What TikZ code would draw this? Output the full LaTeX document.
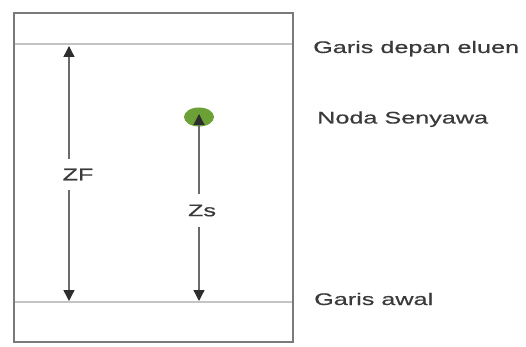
\documentclass[tikz,border=0pt]{standalone}
\usepackage{fontspec}
\setmainfont{Liberation Sans}
\newfontfamily\labelfont{Liberation Sans}[FakeBold=0.45]
\usetikzlibrary{arrows.meta,shapes.geometric}
\definecolor{platecol}{HTML}{7A7A7A}
\definecolor{linecol}{HTML}{C4C4C4}
\definecolor{arrcol}{HTML}{6A6A6A}
\definecolor{tipcol}{HTML}{2E2E2E}
\definecolor{txtcol}{HTML}{3A3A3A}
\definecolor{spotcol}{HTML}{6BA136}
\newcommand{\widetxt}[1]{\scalebox{1.5}[1]{#1}}
\tikzset{
  plate/.style={draw=platecol, line width=2pt},
  guide/.style={draw=linecol, line width=1.2pt},
  dimarrow/.style={draw=arrcol, line width=1.3pt,
    -{Triangle[length=11pt,width=11pt,color=tipcol]}},
  sidelabel/.style={anchor=base west, text=txtcol, inner sep=0pt,
    font=\labelfont\fontsize{16.8}{18}\selectfont},
  dimlabel/.style={text=txtcol, inner xsep=0pt, inner ysep=10pt,
    font=\labelfont\fontsize{16.8}{18}\selectfont},
}
\begin{document}
\begin{tikzpicture}[x=1pt,y=-1pt]
  \useasboundingbox (0,0) rectangle (526,347);
  % TLC plate
  \coordinate (tl) at (14,13);
  \coordinate (br) at (293,342);
  \draw[plate] (tl) rectangle (br);
  % solvent front and starting line
  \coordinate (frontL) at (15,44);
  \coordinate (frontR) at (292,44);
  \coordinate (startL) at (15,302);
  \coordinate (startR) at (292,302);
  \draw[guide] (frontL) -- (frontR);
  \draw[guide] (startL) -- (startR);
  % compound spot
  \node[ellipse, fill=spotcol, minimum width=30pt, minimum height=19pt,
        inner sep=0pt] (spot) at (199,117) {};
  % distance markers
  \coordinate (zftop) at (69,46);
  \coordinate (zfbot) at (69,301);
  \coordinate (zstop) at (199,114);
  \coordinate (zsbot) at (199,301);
  \node[dimlabel] (zf) at (78,174.5) {\widetxt{ZF}};
  \node[dimlabel] (zs) at (202,210.5) {\widetxt{Zs}};
  \draw[dimarrow] (zf.north -| zftop) -- (zftop);
  \draw[dimarrow] (zf.south -| zfbot) -- (zfbot);
  \draw[dimarrow] (zs.north -| zstop) -- (zstop);
  \draw[dimarrow] (zs.south -| zsbot) -- (zsbot);
  % side labels
  \node[sidelabel] (front) at (313,53) {\widetxt{Garis depan eluen}};
  \node[sidelabel] (spotlbl) at (317,123.5) {\widetxt{Noda Senyawa}};
  \node[sidelabel] (start) at (314,305) {\widetxt{Garis awal}};
\end{tikzpicture}
\end{document}
